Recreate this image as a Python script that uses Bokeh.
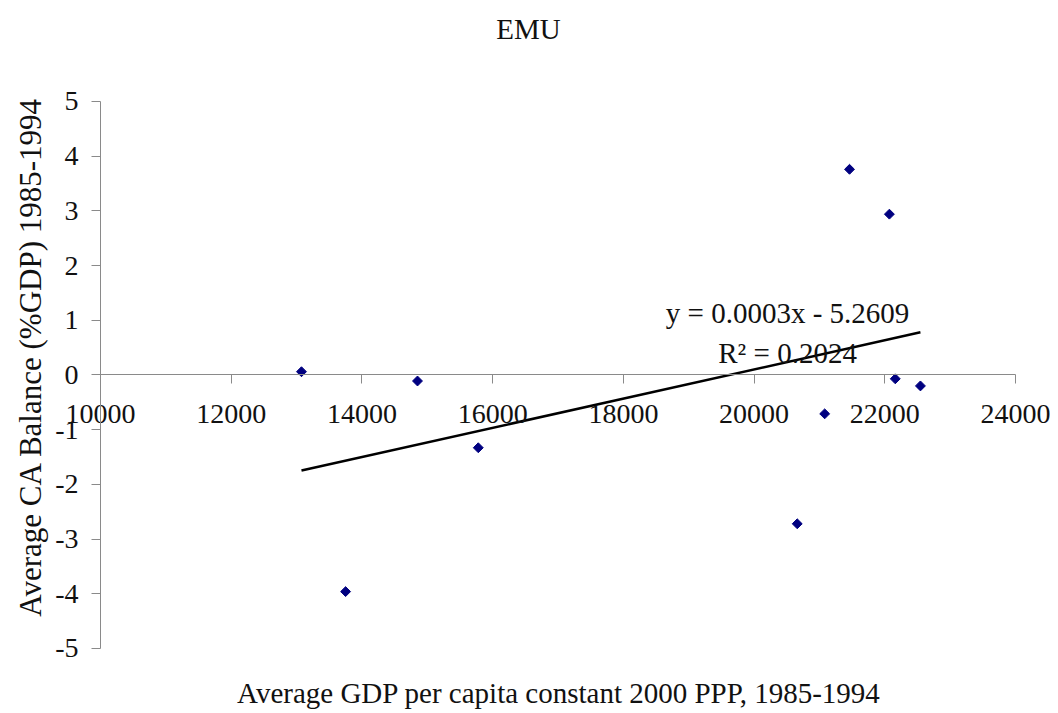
import numpy as np
from bokeh.plotting import figure
from bokeh.models import FixedTicker, Label, Range1d, PrintfTickFormatter
from bokeh.embed import file_html
from bokeh.resources import INLINE

# ---- data ----
gdp = [13075, 13750, 14850, 15780, 20660, 21080, 21460, 22070, 22160, 22545]
ca = [0.06, -3.96, -0.11, -1.33, -2.72, -0.71, 3.76, 2.94, -0.07, -0.20]
x_ticks = [10000, 12000, 14000, 16000, 18000, 20000, 22000, 24000]
y_ticks = [-5, -4, -3, -2, -1, 0, 1, 2, 3, 4, 5]
title_text = "EMU"
x_label = "Average GDP per capita constant 2000 PPP, 1985-1994"
y_label = "Average CA Balance (%GDP) 1985-1994"
eq_text = "y = 0.0003x - 5.2609"
r2_text = "R² = 0.2024"

FONT = "Liberation Serif"
TXT = "#111111"
AX = "#8a8a8a"

# the frame covers the whole canvas; axes are pinned inside it
p = figure(width=1050, height=712, output_backend="svg", toolbar_location=None,
           x_range=Range1d(8470, 24535), y_range=Range1d(-6.17, 6.846),
           min_border=0)
p.outline_line_color = None
p.grid.visible = False
p.background_fill_color = "white"
p.border_fill_color = "white"

for ax in (p.xaxis[0], p.yaxis[0]):
    ax.axis_line_color = AX
    ax.major_tick_line_color = AX
    ax.minor_tick_line_color = None
    ax.major_tick_in = 0
    ax.major_tick_out = 9
    ax.major_label_text_font = FONT
    ax.major_label_text_font_size = "28px"
    ax.major_label_text_color = TXT

p.xaxis.ticker = FixedTicker(ticks=x_ticks)
p.yaxis.ticker = FixedTicker(ticks=y_ticks)
p.yaxis.formatter = PrintfTickFormatter(format="%d")
p.xaxis.formatter = PrintfTickFormatter(format="%d")
p.xaxis.fixed_location = 0
p.xaxis.bounds = (x_ticks[0], x_ticks[-1])
p.yaxis.fixed_location = x_ticks[0]
p.yaxis.bounds = (y_ticks[0], y_ticks[-1])
p.xaxis.major_label_standoff = 21
p.yaxis.major_label_standoff = 13

p.add_layout(Label(x=16549, y=6.33, text=title_text, text_font=FONT, text_font_size="29px",
                   text_align="center", text_baseline="middle", text_color=TXT))
p.add_layout(Label(x=17015, y=-5.81, text=x_label, text_font=FONT, text_font_size="29px",
                   text_align="center", text_baseline="middle", text_color=TXT))
p.add_layout(Label(x=8929, y=0.33, text=y_label, text_font=FONT, text_font_size="31px",
                   angle=np.pi / 2, text_align="center", text_baseline="middle", text_color=TXT))

p.scatter(gdp, ca, marker="square", size=7, angle=np.pi / 4, color="#000080")

slope, intercept = np.polyfit(gdp, ca, 1)
xs = [min(gdp), max(gdp)]
p.line(xs, [slope * v + intercept for v in xs], line_color="black", line_width=2.5)

p.add_layout(Label(x=20512, y=1.13, text=eq_text, text_font=FONT, text_font_size="29px",
                   text_align="center", text_baseline="middle", text_color=TXT))
p.add_layout(Label(x=20512, y=0.40, text=r2_text, text_font=FONT, text_font_size="29px",
                   text_align="center", text_baseline="middle", text_color=TXT))

open("out.html", "w").write(file_html(p, INLINE))
